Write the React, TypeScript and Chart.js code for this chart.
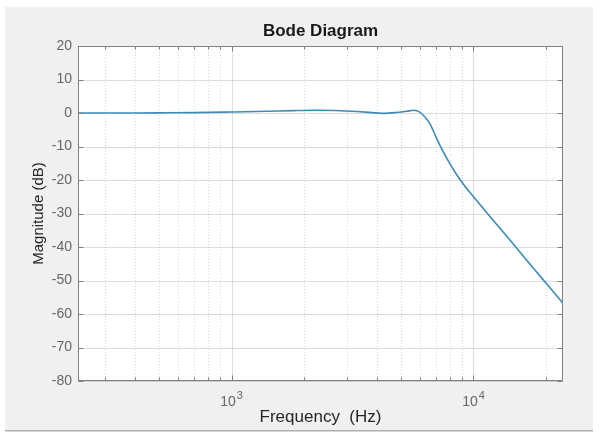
import React, { useEffect, useRef } from 'react';
import { Chart, registerables } from 'chart.js';

Chart.register(...registerables);

// ---- data ----
const freqHz = [232, 300, 400, 500, 700, 1000, 1400, 1800, 2200, 2700, 3300, 3800, 4200, 4800, 5300, 5650, 6000, 6300, 6620, 7000, 7500, 8000, 8500, 9200, 10000, 11700, 13000, 14600, 16500, 18300, 20500, 23440];
const magDb = [0, 0, 0.02, 0.05, 0.12, 0.3, 0.5, 0.7, 0.8, 0.75, 0.45, 0.1, -0.1, 0.15, 0.5, 0.8, 0.25, -1.2, -3.3, -7.2, -11.6, -15.2, -18.3, -21.8, -25.0, -30.9, -34.8, -39.1, -43.7, -47.6, -51.8, -56.8];

const xRange = [232, 23440];
const yRange = [-80, 20];
const xMajorTicks = [1000, 10000];
const xMajorBase = ['10', '10'];
const xMajorExp = ['3', '4'];
const xMinorTicks = [300, 400, 500, 600, 700, 800, 900, 2000, 3000, 4000, 5000, 6000, 7000, 8000, 9000, 20000];
const yTicks = [-80, -70, -60, -50, -40, -30, -20, -10, 0, 10, 20];

const titleText = 'Bode Diagram';
const xTitle = 'Frequency  (Hz)';
const yTitle = 'Magnitude (dB)';

const FONT = '"Liberation Sans", Arial, Helvetica, sans-serif';

const matlabFrame = {
  id: 'matlabFrame',
  beforeDraw(chart: any) {
    const { ctx, chartArea: a, width, height } = chart;
    ctx.save();
    ctx.fillStyle = '#ffffff';
    ctx.fillRect(0, 0, width, height);
    ctx.fillStyle = '#f0f0f0';
    ctx.fillRect(5, 7, 588, 423);
    ctx.fillStyle = '#b0b0b0';
    ctx.fillRect(5, 430, 588, 1.5);
    ctx.fillStyle = '#ffffff';
    ctx.fillRect(a.left, a.top, a.right - a.left, a.bottom - a.top);
    ctx.restore();
  },
  beforeDatasetsDraw(chart: any) {
    const { ctx, chartArea: a, scales } = chart;
    const xs = scales.x;
    const ys = scales.y;
    ctx.save();
    ctx.lineWidth = 1;
    ctx.strokeStyle = 'rgba(0,0,0,0.16)';
    ctx.setLineDash([1, 2]);
    for (const v of xMinorTicks) {
      const px = Math.round(xs.getPixelForValue(v)) + 0.5;
      ctx.beginPath();
      ctx.moveTo(px, a.top);
      ctx.lineTo(px, a.bottom);
      ctx.stroke();
    }
    ctx.setLineDash([]);
    ctx.strokeStyle = 'rgba(0,0,0,0.13)';
    for (const v of xMajorTicks) {
      const px = Math.round(xs.getPixelForValue(v)) + 0.5;
      ctx.beginPath();
      ctx.moveTo(px, a.top);
      ctx.lineTo(px, a.bottom);
      ctx.stroke();
    }
    for (const v of yTicks) {
      const py = Math.round(ys.getPixelForValue(v)) + 0.5;
      ctx.beginPath();
      ctx.moveTo(a.left, py);
      ctx.lineTo(a.right, py);
      ctx.stroke();
    }
    ctx.restore();
  },
  afterDatasetsDraw(chart: any) {
    const { ctx, chartArea: a, scales } = chart;
    const xs = scales.x;
    const ys = scales.y;
    const L = Math.round(a.left) + 0.5;
    const R = Math.round(a.right) - 0.5;
    const T = Math.round(a.top) + 0.5;
    const B = Math.round(a.bottom) - 0.5;
    ctx.save();
    ctx.strokeStyle = '#808080';
    ctx.lineWidth = 1;
    ctx.strokeRect(L, T, R - L, B - T);
    ctx.beginPath();
    const tickMajor = 5;
    const tickMinor = 3;
    for (const v of xMajorTicks) {
      const px = Math.round(xs.getPixelForValue(v)) + 0.5;
      ctx.moveTo(px, B); ctx.lineTo(px, B - tickMajor);
      ctx.moveTo(px, T); ctx.lineTo(px, T + tickMajor);
    }
    for (const v of xMinorTicks) {
      const px = Math.round(xs.getPixelForValue(v)) + 0.5;
      ctx.moveTo(px, B); ctx.lineTo(px, B - tickMinor);
      ctx.moveTo(px, T); ctx.lineTo(px, T + tickMinor);
    }
    for (const v of yTicks) {
      const py = Math.round(ys.getPixelForValue(v)) + 0.5;
      ctx.moveTo(L, py); ctx.lineTo(L + tickMajor, py);
      ctx.moveTo(R, py); ctx.lineTo(R - tickMajor, py);
    }
    ctx.stroke();

    // title centred over the axes
    ctx.fillStyle = '#1a1a1a';
    ctx.font = 'bold 17px ' + FONT;
    ctx.textAlign = 'center';
    ctx.textBaseline = 'alphabetic';
    ctx.fillText(titleText, (a.left + a.right) / 2, 36);

    // x tick labels as 10 with a raised exponent
    ctx.fillStyle = '#666666';
    ctx.textAlign = 'left';
    xMajorTicks.forEach((v, i) => {
      const px = xs.getPixelForValue(v);
      ctx.font = '14px ' + FONT;
      const w1 = ctx.measureText(xMajorBase[i]).width;
      ctx.font = '11px ' + FONT;
      const w2 = ctx.measureText(xMajorExp[i]).width;
      const x0 = px - (w1 + w2 + 1) / 2;
      ctx.font = '14px ' + FONT;
      ctx.fillText(xMajorBase[i], x0, 406);
      ctx.font = '11px ' + FONT;
      ctx.fillText(xMajorExp[i], x0 + w1 + 1, 399);
    });
    ctx.restore();
  },
};

export default function App() {
  const ref = useRef<HTMLCanvasElement | null>(null);

  useEffect(() => {
    if (!ref.current) return;
    const points = freqHz.map((f, i) => ({ x: f, y: magDb[i] }));
    const chart = new Chart(ref.current, {
      type: 'line',
      data: {
        datasets: [
          {
            data: points,
            borderColor: '#3d8bb8',
            borderWidth: 1.6,
            pointRadius: 0,
            fill: false,
            cubicInterpolationMode: 'monotone',
          } as any,
        ],
      },
      options: {
        responsive: false,
        animation: false,
        events: [],
        layout: { padding: { left: 0, right: 47, top: 46, bottom: 0 } },
        plugins: {
          legend: { display: false },
          tooltip: { enabled: false },
          title: { display: false },
        },
        scales: {
          x: {
            type: 'logarithmic',
            min: xRange[0],
            max: xRange[1],
            grid: { display: false, drawTicks: false },
            border: { display: false },
            afterBuildTicks: (axis: any) => {
              axis.ticks = xMajorTicks.map((v) => ({ value: v }));
            },
            afterFit: (axis: any) => {
              axis.height = 59;
            },
            ticks: { display: false },
            title: {
              display: true,
              text: xTitle,
              color: '#262626',
              font: { family: FONT, size: 17 },
              padding: { top: 0, bottom: 12 },
            },
          },
          y: {
            type: 'linear',
            min: yRange[0],
            max: yRange[1],
            grid: { display: false, drawTicks: false },
            border: { display: false },
            afterBuildTicks: (axis: any) => {
              axis.ticks = yTicks.map((v) => ({ value: v }));
            },
            afterFit: (axis: any) => {
              axis.width = 78;
            },
            ticks: {
              autoSkip: false,
              padding: 6,
              color: '#666666',
              font: { family: FONT, size: 14 },
            },
            title: {
              display: true,
              text: yTitle,
              color: '#262626',
              font: { family: FONT, size: 15 },
              padding: { top: 30, bottom: 0 },
            },
          },
        },
      } as any,
      plugins: [matlabFrame],
    });
    return () => chart.destroy();
  }, []);

  return (
    <div style={{ position: 'absolute', left: 0, top: 0, width: 610, height: 440 }}>
      <canvas ref={ref} width={610} height={440} style={{ display: 'block', width: 610, height: 440 }} />
    </div>
  );
}
